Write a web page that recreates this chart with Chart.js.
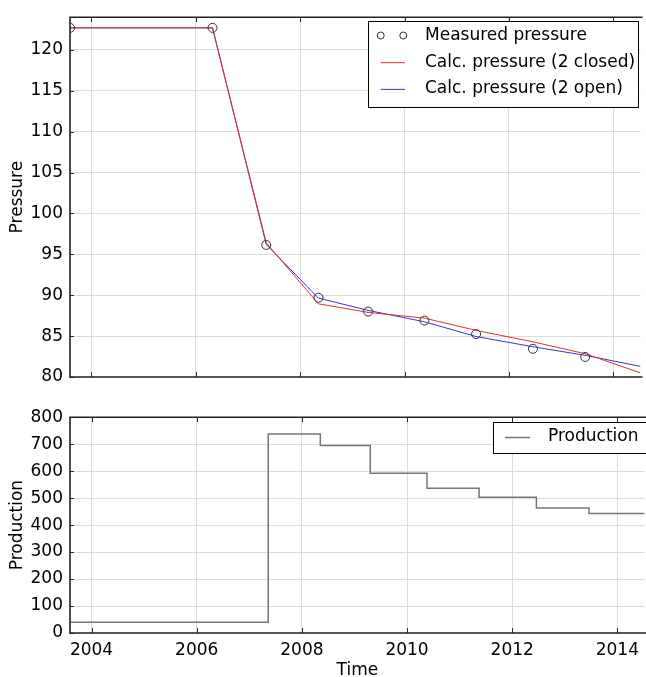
<!DOCTYPE html>
<html><head><meta charset="utf-8">
<script src="https://cdn.jsdelivr.net/npm/chart.js@4/dist/chart.umd.min.js"></script>
<style>
html,body{margin:0;padding:0;background:#fff;overflow:hidden;width:646px;height:677px}
#c1{position:absolute;left:0;top:0}
#c2{position:absolute;left:0;top:400px}
</style></head><body>
<canvas id="c1" width="646" height="400"></canvas>
<canvas id="c2" width="646" height="277"></canvas>
<script>
// ---- data ----
const measTime = [2003.59, 2006.32, 2007.35, 2008.35, 2009.30, 2010.38, 2011.37, 2012.46, 2013.46];
const measPressure = [122.7, 122.7, 96.15, 89.7, 88.0, 86.9, 85.25, 83.45, 82.45];
const calcTime = [2003.59, 2006.32, 2007.35, 2008.35, 2009.30, 2010.38, 2011.37, 2012.46, 2013.46, 2014.52];
const calcClosed = [122.7, 122.7, 96.4, 88.95, 87.9, 87.2, 85.7, 84.3, 82.85, 80.5];
const calcOpen = [122.7, 122.7, 96.2, 89.65, 88.15, 86.75, 84.95, 83.7, 82.65, 81.3];
const prodTime = [2003.59, 2007.36, 2008.35, 2009.30, 2010.38, 2011.37, 2012.46, 2013.46, 2014.52];
const production = [40, 738, 695, 592, 537, 503, 463, 443, 443];
const timeTicks = [2004, 2006, 2008, 2010, 2012, 2014];
const pressureTicks = [80, 85, 90, 95, 100, 105, 110, 115, 120];
const productionTicks = [0, 100, 200, 300, 400, 500, 600, 700, 800];
const xMin = 2003.59, xMax = 2014.52;

const pts = (xs, ys) => xs.map((x, i) => ({x: x, y: ys[i]}));
const FONT = "'DejaVu Sans', sans-serif";
const FS = 17;
Chart.defaults.font.family = FONT;
Chart.defaults.color = '#000';

const mplFrame = {
  id: 'mplFrame',
  afterDraw(chart) {
    const ctx = chart.ctx, a = chart.chartArea;
    ctx.save();
    ctx.strokeStyle = '#2a2a2a';
    ctx.lineWidth = 1;
    chart.scales.x.ticks.forEach(t => {
      const px = Math.round(chart.scales.x.getPixelForValue(t.value)) + 0.5;
      ctx.beginPath();
      ctx.moveTo(px, a.bottom); ctx.lineTo(px, a.bottom - 5);
      ctx.moveTo(px, a.top); ctx.lineTo(px, a.top + 5);
      ctx.stroke();
    });
    chart.scales.y.ticks.forEach(t => {
      const py = Math.round(chart.scales.y.getPixelForValue(t.value)) + 0.5;
      ctx.beginPath();
      ctx.moveTo(a.left, py); ctx.lineTo(a.left + 4, py);
      ctx.stroke();
    });
    ctx.strokeStyle = '#222';
    ctx.lineWidth = 1.6;
    ctx.beginPath();
    ctx.moveTo(a.right + 2, a.top); ctx.lineTo(a.left, a.top);
    ctx.lineTo(a.left, a.bottom); ctx.lineTo(a.right + 2, a.bottom);
    ctx.stroke();
    ctx.restore();
  }
};

const boxLegend = {
  id: 'boxLegend',
  afterDraw(chart, args, o) {
    if (!o || !o.w) return;
    const ctx = chart.ctx;
    ctx.save();
    ctx.fillStyle = '#fff';
    ctx.fillRect(o.x, o.y, o.w, o.h);
    ctx.strokeStyle = '#000';
    ctx.lineWidth = 1;
    ctx.strokeRect(o.x + 0.5, o.y + 0.5, o.w, o.h);
    ctx.font = FS + 'px ' + FONT;
    ctx.textBaseline = 'middle';
    ctx.fillStyle = '#000';
    chart.data.datasets.forEach((ds, i) => {
      const y = o.y + o.row0 + i * o.gap;
      if (ds.showLine === false) {
        ctx.strokeStyle = ds.borderColor; ctx.lineWidth = 1;
        [o.m1, o.m2].forEach(mx => { ctx.beginPath(); ctx.arc(o.x + mx, y, 3.5, 0, Math.PI * 2); ctx.stroke(); });
      } else {
        ctx.strokeStyle = ds.borderColor; ctx.lineWidth = ds.borderWidth;
        ctx.beginPath(); ctx.moveTo(o.x + o.l1, y + 0.5); ctx.lineTo(o.x + o.l2, y + 0.5); ctx.stroke();
      }
      ctx.fillStyle = '#000';
      ctx.fillText(ds.label, o.x + o.tx, y);
    });
    ctx.restore();
  }
};

function xScale(showLabels, title) {
  return {
    type: 'linear', min: xMin, max: xMax,
    afterBuildTicks: s => { s.ticks = timeTicks.map(v => ({value: v})); },
    afterFit: s => { s.height = showLabels ? 44 : 0; },
    grid: {color: '#dcdcdc', lineWidth: 1, drawTicks: false},
    border: {display: false},
    ticks: {display: showLabels, padding: 7, font: {size: FS}, color: '#000',
            callback: v => String(v), maxRotation: 0, autoSkip: false},
    title: {display: !!title, text: title || '', font: {size: FS, lineHeight: 1}, color: '#000', padding: {top: 0, bottom: -2}}
  };
}
function yScale(min, max, ticks, title) {
  return {
    type: 'linear', min: min, max: max,
    afterBuildTicks: s => { s.ticks = ticks.map(v => ({value: v})); },
    afterFit: s => { s.width = 70; },
    grid: {color: '#dcdcdc', lineWidth: 1, drawTicks: false},
    border: {display: false},
    ticks: {padding: 7, font: {size: FS}, color: '#000', autoSkip: false},
    title: {display: true, text: title, font: {size: FS}, color: '#000', padding: {top: 7, bottom: 0}}
  };
}

new Chart(document.getElementById('c1'), {
  type: 'line',
  data: {
    datasets: [
      {label: 'Measured pressure', data: pts(measTime, measPressure), showLine: false,
       pointStyle: 'circle', pointRadius: 4.5, pointBorderWidth: 1, borderColor: '#333',
       pointBorderColor: '#333', pointBackgroundColor: 'rgba(0,0,0,0)', backgroundColor: 'rgba(0,0,0,0)'},
      {label: 'Calc. pressure (2 closed)', data: pts(calcTime, calcClosed), borderColor: '#e0302c',
       borderWidth: 1, pointRadius: 0, tension: 0, fill: false},
      {label: 'Calc. pressure (2 open)', data: pts(calcTime, calcOpen), borderColor: '#3434d6',
       borderWidth: 1, pointRadius: 0, tension: 0, fill: false}
    ]
  },
  options: {
    responsive: false, animation: false, devicePixelRatio: 1,
    layout: {padding: {top: 13, left: 0, right: 0, bottom: 23}},
    scales: {x: xScale(false, null), y: yScale(80, 124, pressureTicks, 'Pressure')},
    plugins: {
      legend: {display: false}, tooltip: {enabled: false},
      boxLegend: {x: 368, y: 21, w: 270, h: 86, row0: 14.5, gap: 26.7, m1: 12.7, m2: 35.3, l1: 12.7, l2: 37, tx: 57}
    }
  },
  plugins: [mplFrame, boxLegend]
});

new Chart(document.getElementById('c2'), {
  type: 'line',
  data: {
    datasets: [
      {label: 'Production', data: pts(prodTime, production), stepped: true,
       borderColor: '#777777', borderWidth: 1.5, pointRadius: 0, fill: false}
    ]
  },
  options: {
    responsive: false, animation: false, devicePixelRatio: 1,
    layout: {padding: {top: 14, left: 0, right: 0, bottom: 0}},
    scales: {x: xScale(true, 'Time'), y: yScale(0, 800, productionTicks, 'Production')},
    plugins: {
      legend: {display: false}, tooltip: {enabled: false},
      boxLegend: {x: 493, y: 22, w: 154, h: 31, row0: 15, gap: 0, l1: 12, l2: 37, tx: 55}
    }
  },
  plugins: [mplFrame, boxLegend]
});
</script>
</body></html>
